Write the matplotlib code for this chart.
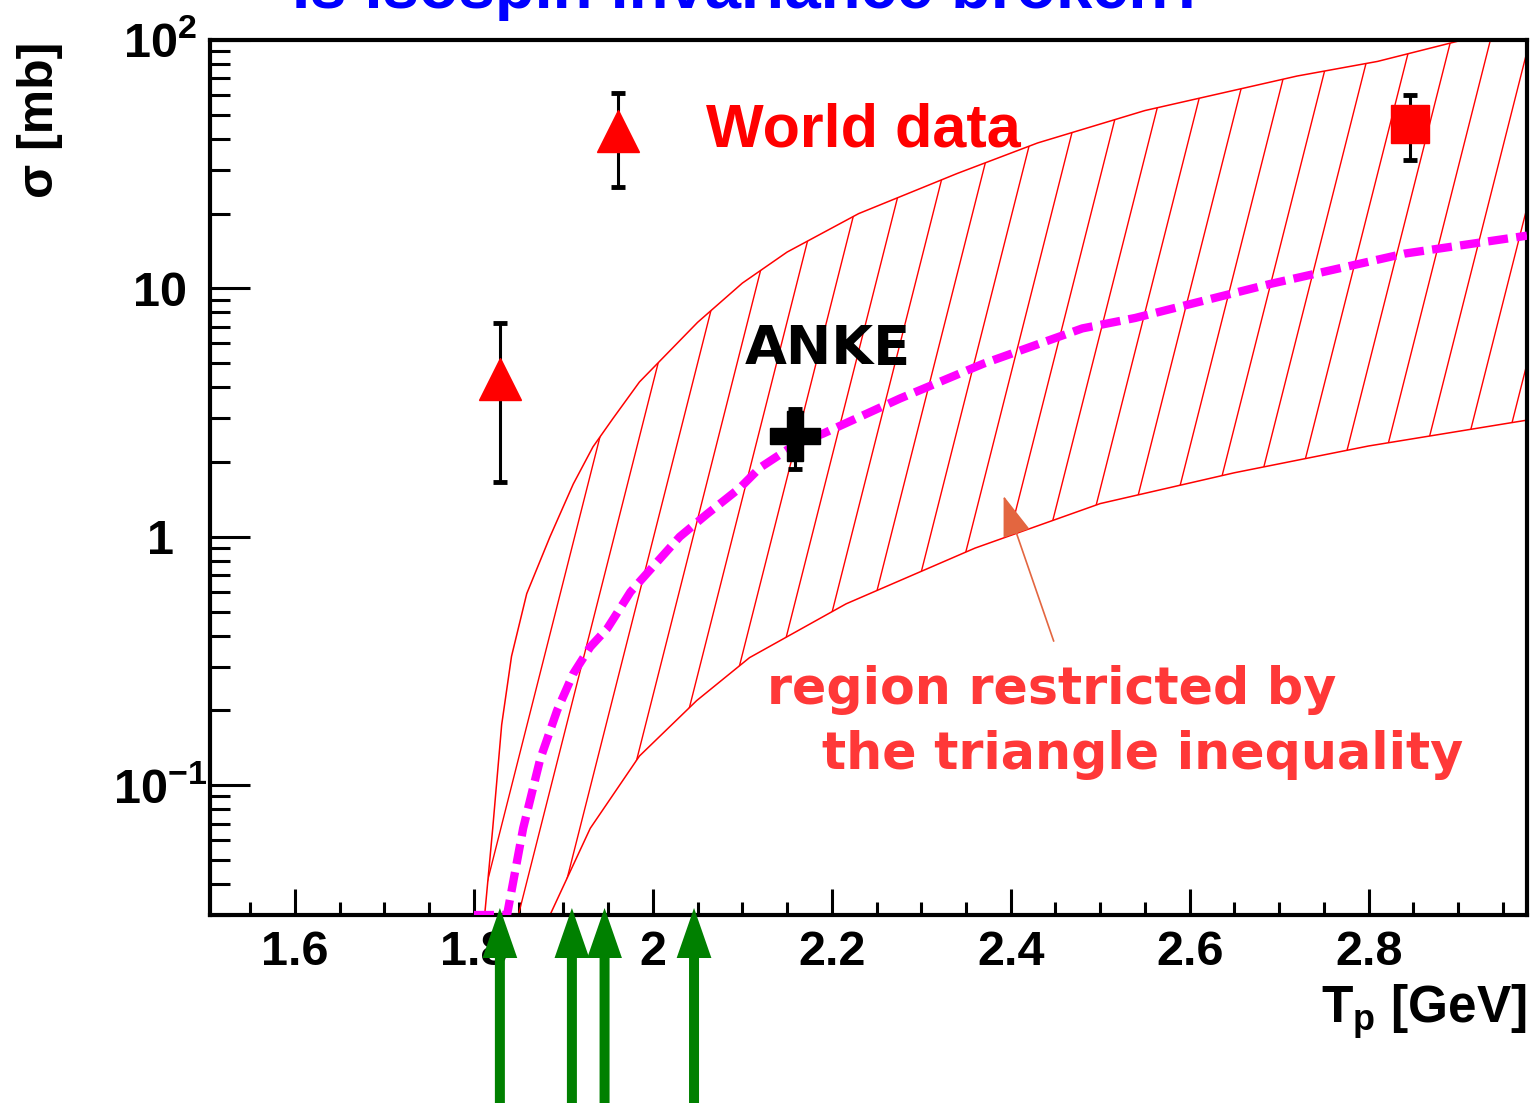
import numpy as np
import matplotlib
matplotlib.use('Agg')
import matplotlib.pyplot as plt
from matplotlib.ticker import FixedLocator, FixedFormatter, LogLocator, MultipleLocator, NullFormatter
from matplotlib.patches import Polygon

plt.rcParams['font.family'] = ['Liberation Sans', 'DejaVu Sans']
plt.rcParams['mathtext.fontset'] = 'custom'
plt.rcParams['mathtext.rm'] = 'Liberation Sans:bold'
plt.rcParams['mathtext.bf'] = 'Liberation Sans:bold'

# --- data ---
# band limited by the triangle inequality (upper / lower edge)
upper_x = [1.812, 1.821, 1.831, 1.842, 1.859, 1.885, 1.911, 1.933, 1.955, 1.985, 2.05, 2.10, 2.15, 2.23, 2.34, 2.43, 2.55, 2.72, 2.81, 2.905, 2.98]
upper_y = [0.03, 0.067, 0.175, 0.33, 0.59, 1.0, 1.63, 2.3, 2.98, 4.2, 7.3, 10.5, 14.0, 20.0, 29.0, 38.5, 52.0, 71.6, 82.0, 100.0, 110.0]
lower_x = [1.885, 1.93, 1.985, 2.049, 2.108, 2.216, 2.36, 2.50, 2.65, 2.80, 2.98]
lower_y = [0.03, 0.067, 0.131, 0.219, 0.326, 0.537, 0.90, 1.36, 1.81, 2.32, 2.96]

# magenta dashed curve
curve_x = [1.80, 1.837, 1.855, 1.874, 1.893, 1.911, 1.93, 1.949, 1.975, 2.004, 2.03, 2.06, 2.097, 2.12, 2.159, 2.19, 2.276, 2.369, 2.48, 2.539, 2.689, 2.84, 2.977]
curve_y = [0.03, 0.03, 0.067, 0.127, 0.2, 0.281, 0.36, 0.427, 0.6, 0.786, 1.0, 1.23, 1.57, 1.9, 2.35, 2.6, 3.6, 4.97, 6.9, 7.6, 10.4, 13.8, 16.3]

# world data: triangles
tri_x = [1.829, 1.961]
tri_y = [4.32, 43.0]
tri_lo = [1.66, 25.6]
tri_hi = [7.26, 61.2]
# world data: square
sq_x = [2.846]
sq_y = [45.9]
sq_lo = [32.9]
sq_hi = [60.1]
# ANKE point
anke_x = [2.159]
anke_y = [2.55]
anke_lo = [1.88]
anke_hi = [3.27]

# green arrows (beam energies)
arrow_x = [1.829, 1.9095, 1.946, 2.046]

xtick_vals = [1.6, 1.8, 2.0, 2.2, 2.4, 2.6, 2.8]
xtick_labels = ['1.6', '1.8', '2', '2.2', '2.4', '2.6', '2.8']
ytick_vals = [0.1, 1, 10, 100]
ytick_labels = [r'$10^{-1}$', '1', '10', r'$10^{2}$']

fig = plt.figure(figsize=(15.3, 11.03), dpi=100)
ax = fig.add_axes([210/1530, 1-915/1103, 1317/1530, 875/1103])
ax.set_xlim(1.505, 2.977)
ax.set_yscale('log')
ax.set_ylim(0.03, 100)

# hatched band
band_pts = list(zip(upper_x, upper_y)) + list(zip(lower_x[::-1], lower_y[::-1]))
band = Polygon(band_pts, closed=True, facecolor='none', edgecolor='red', lw=1.1, zorder=2)
ax.add_patch(band)
W, H = 1317.0, 875.0
slope = 3.95
for x0 in np.arange(1177.4, -400, -39.5):
    ln, = ax.plot([x0/W, (x0 + H/slope)/W], [0, 1], transform=ax.transAxes,
                  color='red', lw=1.0, zorder=2)
    ln.set_clip_path(band)

# magenta curve
ax.plot(curve_x, curve_y, color='#ff00ff', lw=6, ls=(0, (2.4, 1.0)),
        dash_capstyle='butt', zorder=3)

# data points
def yerr(y, lo, hi):
    return [np.array(y) - np.array(lo), np.array(hi) - np.array(y)]

ax.errorbar(tri_x, tri_y, yerr=yerr(tri_y, tri_lo, tri_hi), fmt='^', color='red',
            ms=30, ecolor='black', elinewidth=2.2, capsize=5, capthick=3.5, zorder=5)
ax.errorbar(sq_x, sq_y, yerr=yerr(sq_y, sq_lo, sq_hi), fmt='s', color='red',
            ms=28, ecolor='black', elinewidth=2.2, capsize=5, capthick=3.5, zorder=5)
ax.errorbar(anke_x, anke_y, yerr=yerr(anke_y, anke_lo, anke_hi), fmt='P', color='black',
            ms=36, ecolor='black', elinewidth=2.2, capsize=5, capthick=3.5, zorder=5)

# texts
ax.text(2.059, 37.4, 'World data', color='red', fontsize=44, fontweight='bold', va='baseline')
ax.text(2.103, 4.97, 'ANKE', color='black', fontsize=39, family='DejaVu Sans',
        fontweight='bold', va='baseline')
ax.text(2.128, 0.213, 'region restricted by', color='#ff3838', fontsize=36.5,
        family='DejaVu Sans', fontweight='bold', va='baseline')
ax.text(2.189, 0.1165, 'the triangle inequality', color='#ff3838', fontsize=36.5,
        family='DejaVu Sans', fontweight='bold', va='baseline')
ax.annotate('', xy=(2.392, 1.46), xytext=(2.448, 0.38),
            arrowprops=dict(arrowstyle='-|>,head_length=1.3,head_width=0.45', color='#e36640',
                            lw=1.2, mutation_scale=20, shrinkA=0, shrinkB=0), zorder=4)

# green arrows below the axis
for xa in arrow_x:
    ax.annotate('', xy=(xa, 0.008), xytext=(xa, -0.23),
                xycoords=ax.get_xaxis_transform(), textcoords=ax.get_xaxis_transform(),
                arrowprops=dict(width=7.2, headwidth=25, headlength=36, shrink=0,
                                color='#008000', lw=0),
                annotation_clip=False, zorder=6)

# axes styling
ax.set_xticks(xtick_vals)
ax.set_xticklabels(xtick_labels)
ax.xaxis.set_minor_locator(MultipleLocator(0.05))
ax.yaxis.set_major_locator(FixedLocator(ytick_vals))
ax.yaxis.set_major_formatter(FixedFormatter(ytick_labels))
ax.yaxis.set_minor_locator(LogLocator(base=10, subs=range(2, 10)))
ax.yaxis.set_minor_formatter(NullFormatter())
ax.tick_params(axis='both', which='both', direction='in', top=False, right=False, width=2.2)
ax.tick_params(axis='x', which='major', length=19, pad=11, labelsize=35)
ax.tick_params(axis='x', which='minor', length=9.5)
ax.tick_params(axis='y', which='major', length=29, pad=36, labelsize=35)
ax.tick_params(axis='y', which='minor', length=14.5)
for lab in ax.get_xticklabels() + ax.get_yticklabels():
    lab.set_fontweight('bold')
for lab in ax.get_yticklabels():
    lab.set_horizontalalignment('center')
for s in ax.spines.values():
    s.set_linewidth(3)

fig.text(40/1530, 1-42/1103, 'σ [mb]', rotation=90, ha='center', va='top',
         fontsize=36, fontweight='bold')
fig.text(1527/1530, 1-1023/1103, r'$\mathbf{T_{p}}$ [GeV]', ha='right', va='baseline',
         fontsize=37, fontweight='bold')
fig.text(750/1530, 1-8/1103, 'Is isospin invariance broken?', ha='center', va='baseline',
         fontsize=47, fontweight='bold', color='#0000ff')

fig.savefig('out.png', dpi=100)
